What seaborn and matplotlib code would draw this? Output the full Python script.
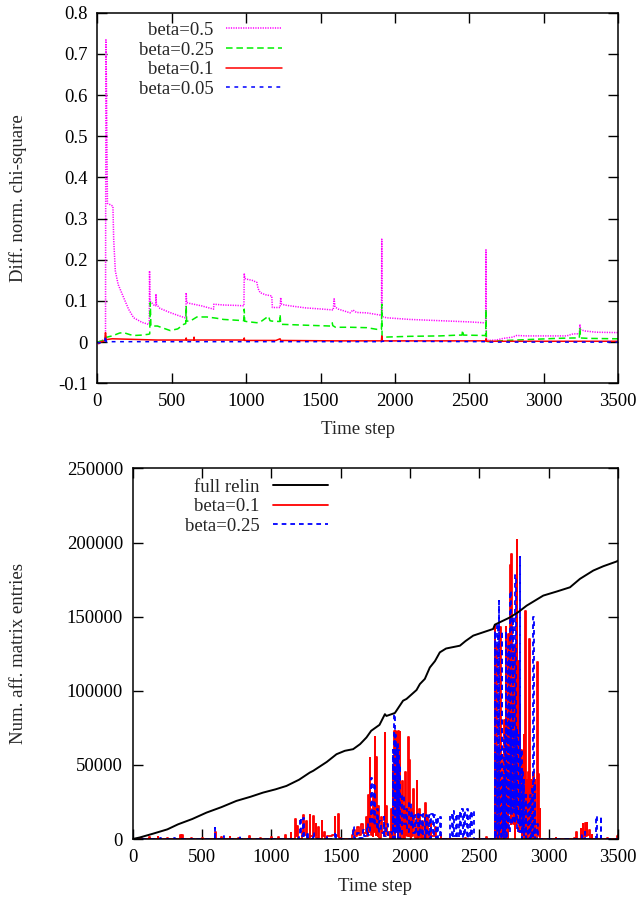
import matplotlib
matplotlib.use("Agg")
import matplotlib.pyplot as plt
import seaborn as sns

# ---------------- data ----------------
x_ticks = [0, 500, 1000, 1500, 2000, 2500, 3000, 3500]
x_tick_labels = ["0", "500", "1000", "1500", "2000", "2500", "3000", "3500"]
top_y_ticks = [-0.1, 0.0, 0.1, 0.2, 0.3, 0.4, 0.5, 0.6, 0.7, 0.8]
top_y_labels = ["-0.1", "0", "0.1", "0.2", "0.3", "0.4", "0.5", "0.6", "0.7", "0.8"]
bot_y_ticks = [0, 50000, 100000, 150000, 200000, 250000]
bot_y_labels = ["0", "50000", "100000", "150000", "200000", "250000"]

# top panel: (time step, diff. norm. chi-square)
beta05 = [(0, 0.0), (40, 0.005), (55, 0.005), (58, 0.734), (62, 0.6), (68, 0.337),
          (80, 0.335), (105, 0.33), (110, 0.25), (121, 0.173), (140, 0.14), (177, 0.108),
          (210, 0.08), (244, 0.059), (300, 0.048), (344, 0.043), (349, 0.045), (351, 0.173),
          (354, 0.1), (360, 0.098), (380, 0.09), (392, 0.088), (394, 0.117), (397, 0.092),
          (420, 0.082), (480, 0.073), (540, 0.065), (590, 0.059), (595, 0.06), (597, 0.12),
          (600, 0.096), (620, 0.094), (700, 0.088), (781, 0.08), (783, 0.092), (850, 0.09),
          (940, 0.089), (985, 0.088), (987, 0.167), (990, 0.155), (1000, 0.153), (1040, 0.15),
          (1072, 0.145), (1080, 0.13), (1094, 0.12), (1130, 0.115), (1172, 0.112), (1176, 0.084),
          (1228, 0.084), (1232, 0.108), (1238, 0.092), (1260, 0.09), (1295, 0.088), (1400, 0.083),
          (1517, 0.08), (1585, 0.078), (1591, 0.105), (1597, 0.085), (1620, 0.08), (1698, 0.071),
          (1718, 0.078), (1740, 0.072), (1810, 0.071), (1877, 0.067), (1909, 0.065), (1911, 0.25),
          (1913, 0.062), (1944, 0.059), (2100, 0.055), (2300, 0.052), (2500, 0.049), (2593, 0.047),
          (2609, 0.047), (2611, 0.224), (2613, 0.01), (2626, 0.004), (2680, 0.005), (2727, 0.009),
          (2790, 0.012), (2817, 0.016), (2884, 0.015), (3000, 0.015), (3152, 0.015), (3197, 0.02),
          (3238, 0.02), (3242, 0.043), (3246, 0.03), (3275, 0.027), (3350, 0.024), (3500, 0.023)]

beta025 = [(0, 0.0), (50, 0.005), (55, 0.012), (65, 0.012), (100, 0.015), (150, 0.022),
           (177, 0.023), (220, 0.018), (244, 0.016), (300, 0.017), (344, 0.019), (352, 0.02),
           (356, 0.096), (360, 0.039), (404, 0.039), (450, 0.033), (490, 0.028), (540, 0.032),
           (580, 0.043), (594, 0.045), (597, 0.088), (600, 0.051), (624, 0.051), (669, 0.061),
           (736, 0.061), (800, 0.058), (848, 0.055), (985, 0.052), (987, 0.08), (990, 0.051),
           (1000, 0.05), (1072, 0.047), (1100, 0.05), (1150, 0.063), (1160, 0.052), (1172, 0.051),
           (1225, 0.05), (1228, 0.067), (1232, 0.043), (1250, 0.043), (1400, 0.041), (1564, 0.039),
           (1578, 0.047), (1582, 0.04), (1600, 0.036), (1700, 0.036), (1810, 0.035), (1877, 0.031),
           (1909, 0.031), (1911, 0.092), (1913, 0.013), (1922, 0.012), (2100, 0.014), (2302, 0.015),
           (2426, 0.017), (2450, 0.017), (2454, 0.029), (2460, 0.017), (2604, 0.016), (2609, 0.016),
           (2611, 0.08), (2614, 0.002), (2626, 0.001), (2750, 0.004), (2884, 0.006), (3085, 0.009),
           (3200, 0.01), (3238, 0.01), (3242, 0.035), (3246, 0.01), (3300, 0.009), (3500, 0.008)]

beta01 = [(0, 0.0), (10, -0.004), (20, 0.0), (50, 0.003), (55, 0.023), (60, 0.006),
          (100, 0.008), (200, 0.007), (300, 0.006), (400, 0.005), (595, 0.005), (597, 0.01),
          (600, 0.005), (648, 0.005), (650, 0.012), (652, 0.005), (985, 0.005), (987, 0.01),
          (990, 0.004), (1200, 0.004), (1228, 0.008), (1232, 0.004), (1600, 0.003), (1909, 0.003),
          (1911, 0.015), (1913, 0.003), (2200, 0.003), (2609, 0.003), (2611, 0.008), (2614, 0.002),
          (3000, 0.002), (3500, 0.002)]

beta005 = [(0, 0.0), (10, -0.002), (50, 0.0), (55, 0.015), (60, 0.001), (500, 0.001),
           (1000, 0.001), (1911, 0.001), (1913, 0.002), (2611, 0.001), (2614, 0.0), (3500, 0.0)]

# bottom panel: (time step, number of affected matrix entries)
full_relin = [(0, 0), (50, 1000), (147, 3600), (250, 6500), (327, 9900), (430, 13500),
              (532, 17800), (640, 21500), (748, 25700), (850, 28500), (940, 31300), (1030, 33500),
              (1109, 35800), (1200, 40000), (1277, 44800), (1302, 46000), (1400, 52000), (1470, 57200),
              (1530, 59500), (1590, 60600), (1640, 64000), (1686, 68500), (1720, 73000), (1780, 77000),
              (1819, 84200), (1830, 83000), (1891, 85000), (1950, 93300), (1975, 94500), (2047, 100500),
              (2071, 104500), (2107, 108000), (2143, 115700), (2180, 120000), (2215, 125900), (2260, 128500),
              (2360, 130400), (2400, 133500), (2456, 137200), (2600, 141700), (2612, 144600), (2721, 149500),
              (2780, 153000), (2841, 157400), (2961, 164200), (3060, 167000), (3154, 169800), (3226, 175500),
              (3322, 181100), (3394, 184000), (3490, 187200), (3500, 187800)]

entries_b01 = [(0, 0), (60, 800), (65, 0), (120, 1200), (125, 0), (180, 1500), (185, 0),
               (250, 600), (255, 0), (340, 2500), (345, 0), (355, 3000), (360, 0), (420, 800),
               (425, 0), (500, 1000), (505, 0), (595, 4500), (600, 0), (640, 1200), (645, 0),
               (700, 1500), (705, 0), (760, 900), (765, 0), (840, 2000), (845, 0), (920, 800),
               (925, 0), (1000, 1200), (1005, 0), (1050, 1500), (1055, 0), (1100, 2500), (1105, 0),
               (1140, 4000), (1145, 0),
               (1170, 13300), (1175, 2000), (1185, 9000), (1190, 0), (1220, 5000), (1230, 16000),
               (1235, 3000), (1250, 12000), (1255, 1000), (1277, 16000), (1282, 2000), (1300, 15500),
               (1305, 3000), (1320, 10000), (1325, 1000), (1340, 8000), (1345, 0), (1362, 12200),
               (1368, 2000), (1380, 5000), (1385, 0), (1400, 2000), (1440, 3000), (1458, 14600),
               (1462, 2000), (1482, 16900), (1486, 1000), (1500, 0),
               (1550, 0), (1580, 3000), (1590, 6000), (1600, 2000), (1620, 8000), (1630, 3000),
               (1650, 10000), (1660, 4000), (1680, 15000), (1690, 2000), (1700, 30000), (1705, 5000),
               (1710, 54500), (1715, 20000), (1720, 3000), (1725, 10000), (1730, 2000), (1735, 30000),
               (1740, 5000), (1746, 68500), (1750, 25000), (1754, 3000), (1758, 55000), (1762, 15000),
               (1766, 2000), (1770, 22300), (1775, 8000), (1780, 1000), (1790, 15000), (1800, 5000),
               (1810, 2000), (1818, 71400), (1822, 10000), (1830, 22000), (1835, 3000), (1850, 5000),
               (1855, 0), (1860, 3000), (1865, 20000), (1870, 0), (1875, 50000), (1880, 5000),
               (1885, 73000), (1890, 0), (1895, 73000), (1900, 5000), (1905, 72000), (1910, 0),
               (1915, 73000), (1920, 5000), (1925, 72300), (1930, 0), (1935, 30000), (1940, 5000),
               (1945, 39200), (1950, 0), (1955, 20000), (1960, 0), (1965, 45000), (1970, 3000),
               (1975, 20000), (1980, 2000), (1987, 68500), (1990, 30000), (1993, 2000), (1995, 53000),
               (2000, 10000), (2005, 1000), (2010, 20000), (2015, 2000), (2023, 33600), (2030, 10000),
               (2035, 1000), (2047, 39200), (2052, 15000), (2056, 1000), (2065, 20000), (2070, 2000),
               (2075, 8000), (2080, 0), (2090, 12000), (2095, 1000), (2107, 24500), (2112, 8000),
               (2116, 0), (2125, 15500), (2130, 5000), (2135, 0), (2150, 10000), (2155, 2000),
               (2180, 8000), (2185, 0), (2220, 3000), (2225, 0),
               (2300, 0), (2400, 1000), (2405, 0), (2550, 1500), (2555, 0), (2600, 0),
               (2605, 0), (2610, 144600), (2615, 5000), (2620, 130000), (2625, 0), (2630, 60000),
               (2635, 5000), (2640, 55000), (2645, 0), (2650, 142800), (2655, 3000), (2660, 40000),
               (2665, 0), (2670, 55000), (2675, 5000), (2680, 80000), (2685, 0), (2690, 143200),
               (2695, 10000), (2700, 82000), (2705, 0), (2710, 138300), (2715, 20000), (2720, 184500),
               (2725, 10000), (2730, 192400), (2735, 20000), (2740, 100000), (2745, 10000), (2750, 130000),
               (2755, 0), (2760, 80000), (2765, 10000), (2770, 201400), (2775, 20000), (2780, 120000),
               (2785, 5000), (2790, 90000), (2795, 10000), (2800, 60000), (2805, 0), (2810, 50000),
               (2815, 5000), (2820, 70000), (2825, 0), (2830, 153600), (2835, 5000), (2840, 40000),
               (2845, 0), (2850, 45000), (2855, 5000), (2860, 134900), (2865, 0), (2870, 40000),
               (2875, 5000), (2880, 35000), (2885, 0), (2890, 45000), (2895, 5000), (2900, 40000),
               (2905, 0), (2915, 119600), (2920, 5000), (2925, 43900), (2930, 2000), (2935, 20000),
               (2940, 0),
               (3000, 0), (3050, 800), (3055, 0), (3100, 0), (3180, 1000), (3200, 5000), (3205, 0),
               (3230, 7000), (3235, 1000), (3245, 10000), (3250, 2000), (3262, 11000), (3266, 2000),
               (3275, 11000), (3280, 3000), (3290, 6000), (3295, 0), (3310, 3000), (3315, 0),
               (3400, 0), (3420, 800), (3425, 0), (3480, 0), (3495, 2000), (3500, 3000)]

entries_b025 = [(0, 0), (150, 0), (200, 1000), (205, 0), (300, 700), (305, 0), (450, 900),
                (455, 0), (590, 0), (592, 7200), (596, 0), (650, 2000), (655, 0), (772, 2700),
                (776, 0), (900, 0), (1000, 1000), (1005, 0),
                (1100, 0), (1200, 3000), (1210, 14500), (1215, 2000), (1230, 14500), (1235, 1000),
                (1260, 5000), (1265, 0), (1300, 4000), (1305, 0), (1400, 2000), (1405, 0), (1460, 5000),
                (1465, 0), (1500, 0),
                (1560, 0), (1590, 8300), (1595, 1000), (1620, 4000), (1630, 1000), (1660, 6000),
                (1670, 2000), (1690, 10000), (1700, 3000), (1715, 15000), (1722, 41400), (1728, 10000),
                (1740, 38000), (1745, 8000), (1760, 20000), (1770, 5000), (1780, 12000), (1790, 4000),
                (1810, 15000), (1815, 2000), (1830, 10000), (1840, 3000), (1860, 5000), (1870, 0),
                (1875, 60000), (1880, 5000), (1885, 84200), (1890, 0), (1895, 70000), (1900, 5000),
                (1905, 65000), (1910, 0), (1915, 60000), (1920, 5000), (1925, 50000), (1930, 0),
                (1945, 30000), (1955, 10000), (1970, 20000), (1980, 5000), (1995, 25000),
                (2005, 8000), (2015, 18000), (2025, 4000), (2035, 16000), (2045, 3000), (2055, 18000),
                (2065, 2000), (2075, 16000), (2085, 2000), (2095, 17000), (2105, 1000), (2115, 16000),
                (2125, 2000), (2135, 16000), (2145, 1000), (2155, 17000), (2165, 2000), (2175, 16000),
                (2185, 1000), (2195, 15000), (2205, 0), (2215, 15000), (2225, 0), (2240, 0),
                (2280, 0), (2290, 17000), (2300, 1000), (2310, 19000), (2320, 2000), (2330, 17000),
                (2340, 1000), (2350, 18000), (2360, 2000), (2370, 20000), (2380, 1000), (2390, 19000),
                (2400, 2000), (2410, 20000), (2420, 1000), (2430, 18000), (2440, 2000), (2450, 19000),
                (2460, 0), (2600, 0),
                (2605, 0), (2610, 140000), (2615, 0), (2620, 60000), (2625, 5000), (2630, 145000),
                (2635, 0), (2640, 160300), (2645, 5000), (2650, 60000), (2655, 0), (2660, 140000),
                (2665, 5000), (2670, 40000), (2675, 0), (2680, 70000), (2685, 5000), (2690, 140000),
                (2695, 0), (2700, 75000), (2705, 10000), (2710, 130000), (2715, 5000), (2720, 167600),
                (2725, 20000), (2730, 75000), (2735, 10000), (2740, 150000), (2745, 20000), (2750, 73000),
                (2755, 10000), (2760, 178400), (2765, 15000), (2770, 75000), (2775, 5000), (2780, 70000),
                (2785, 10000), (2790, 190500), (2795, 5000), (2800, 60000), (2805, 0), (2810, 45000),
                (2815, 5000), (2820, 40000), (2825, 0), (2835, 30000), (2840, 0), (2850, 25000),
                (2855, 0), (2865, 30000), (2870, 0), (2880, 35000), (2885, 0), (2889, 149500),
                (2893, 0), (2900, 38000), (2905, 0), (2915, 10000), (2920, 0),
                (3000, 0), (3200, 0), (3240, 3000), (3245, 0), (3260, 5000), (3265, 0), (3345, 15500),
                (3350, 0), (3374, 15500), (3378, 0), (3500, 0)]

# ---------------- styling ----------------
sns.set_style("ticks")
plt.rcParams["font.family"] = ["Liberation Serif", "DejaVu Serif"]
plt.rcParams["font.size"] = 13.5
plt.rcParams["axes.linewidth"] = 1.1
plt.rcParams["axes.unicode_minus"] = False

fig = plt.figure(figsize=(6.41, 8.98), dpi=100)
ax1 = fig.add_axes([0.1518, 0.5732, 0.8128, 0.4127])
ax2 = fig.add_axes([0.2070, 0.0657, 0.7571, 0.4127])


def draw(ax, series, color, lw, ls, label, **kw):
    t, v = zip(*series)
    sns.lineplot(x=list(t), y=list(v), ax=ax, color=color, lw=lw, linestyle=ls,
                 estimator=None, sort=False, label=label, **kw)


draw(ax1, beta05, "#ff00ff", 1.1, (0, (0.8, 0.8)), "beta=0.5")
draw(ax1, beta025, "#00f000", 1.1, (0, (4.3, 2.5)), "beta=0.25")
draw(ax1, beta01, "#ff0000", 1.1, "-", "beta=0.1")
draw(ax1, beta005, "#0000ff", 1.1, (0, (2.5, 3.0)), "beta=0.05")

draw(ax2, full_relin, "#000000", 1.4, "-", "full relin", zorder=4)
draw(ax2, entries_b01, "#ff0000", 1.3, "-", "beta=0.1", drawstyle="steps-post", zorder=2)
draw(ax2, entries_b025, "#0000ff", 1.3, (0, (2.6, 2.2)), "beta=0.25",
     drawstyle="steps-post", zorder=3)

for ax, yt, yl, ylim in [(ax1, top_y_ticks, top_y_labels, (-0.1, 0.8)),
                         (ax2, bot_y_ticks, bot_y_labels, (0, 250000))]:
    ax.set_xlim(0, 3500)
    ax.set_ylim(*ylim)
    ax.set_xticks(x_ticks)
    ax.set_xticklabels(x_tick_labels)
    ax.set_yticks(yt)
    ax.set_yticklabels(yl)
    ax.tick_params(direction="in", length=7, width=1.0, top=True, right=True,
                   labelsize=13.5, pad=7, colors="black")
    for s in ax.spines.values():
        s.set_visible(True)
        s.set_linewidth(1.1)
        s.set_color("black")
        s.set_zorder(5)
    ax.set_xlabel("Time step", fontsize=13.5)

ax1.set_ylabel("Diff. norm. chi-square", fontsize=13.5)
ax2.set_ylabel("Num. aff. matrix entries", fontsize=13.5)
ax1.yaxis.set_label_coords(-0.135, 0.5)
ax2.yaxis.set_label_coords(-0.218, 0.5)
ax1.xaxis.set_label_coords(0.5, -0.103)
ax2.xaxis.set_label_coords(0.5, -0.105)

for ax, anchor in [(ax1, (0.354, 0.975)), (ax2, (0.403, 0.973))]:
    ax.legend(loc="upper right", bbox_to_anchor=anchor, frameon=False, markerfirst=False,
              handlelength=2.97, handletextpad=0.68, labelspacing=0.13, borderpad=0,
              borderaxespad=0, fontsize=13.5)

fig.savefig("out.png", dpi=100)
